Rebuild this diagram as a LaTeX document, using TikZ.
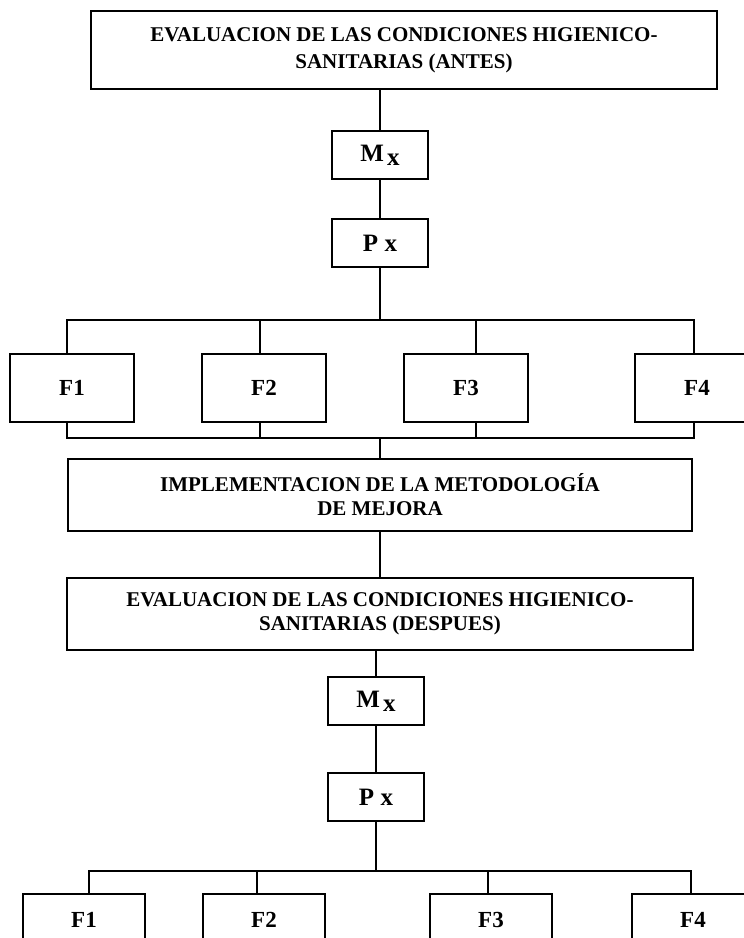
\documentclass[tikz,border=0pt]{standalone}
\usepackage{fontspec}
\setmainfont{Liberation Serif}
\begin{document}
\begin{tikzpicture}[x=1pt,y=-1pt,
  box/.style={draw=black, line width=2pt, inner sep=0pt, align=center, fill=white},
  bigbox/.style={box, font=\fontsize{21}{24}\selectfont\bfseries},
  varbox/.style={box, minimum width=96pt, minimum height=48pt, font=\fontsize{25}{28}\selectfont\bfseries},
  fbox/.style={box, minimum width=124pt, font=\fontsize{23}{26}\selectfont\bfseries},
  link/.style={draw=black, line width=2pt}
]
\useasboundingbox (0,0) rectangle (744,938);

% first evaluation
\node[bigbox, font=\fontsize{21}{27}\selectfont\bfseries, minimum width=626pt, minimum height=78pt] (ev1) at (404,50)
  {EVALUACION DE LAS CONDICIONES HIGIENICO-\\SANITARIAS (ANTES)};
\node[varbox] (mx1) at (380,155) {M\hspace{3pt}\raisebox{-4pt}{x}};
\node[varbox] (px1) at (380,243) {P x};

% factors, first round
\node[fbox, minimum height=68pt] (f1) at (72,388) {F1};
\node[fbox, minimum height=68pt] (f2) at (264,388) {F2};
\node[fbox, minimum height=68pt] (f3) at (466,388) {F3};
\node[fbox, minimum height=68pt] (f4) at (697,388) {F4};

% improvement methodology and second evaluation
\node[bigbox, minimum width=624pt, minimum height=72pt] (impl) at (380,495)
  {IMPLEMENTACION DE LA METODOLOGÍA\\DE MEJORA};
\node[bigbox, minimum width=626pt, minimum height=72pt] (ev2) at (380,614)
  {EVALUACION DE LAS CONDICIONES HIGIENICO-\\SANITARIAS (DESPUES)};
\node[varbox] (mx2) at (376,701) {M\hspace{3pt}\raisebox{-4pt}{x}};
\node[varbox] (px2) at (376,797) {P x};

% factors, second round
\node[fbox, minimum width=122pt, minimum height=52pt] (g1) at (84,920) {F1};
\node[fbox, minimum width=122pt, minimum height=52pt] (g2) at (264,920) {F2};
\node[fbox, minimum width=122pt, minimum height=52pt] (g3) at (491,920) {F3};
\node[fbox, minimum width=122pt, minimum height=52pt] (g4) at (693,920) {F4};

% bus points
\coordinate (ta) at (380,320);
\coordinate (t1) at (67,320);  \coordinate (t2) at (260,320);
\coordinate (t3) at (476,320); \coordinate (t4) at (694,320);
\coordinate (ba) at (380,438);
\coordinate (b1) at (67,438);  \coordinate (b2) at (260,438);
\coordinate (b3) at (476,438); \coordinate (b4) at (694,438);
\coordinate (ca) at (376,871);
\coordinate (c1) at (89,871);  \coordinate (c2) at (257,871);
\coordinate (c3) at (488,871); \coordinate (c4) at (691,871);

% connectors
\path[link] (mx1.north |- ev1.south) -- (mx1.north);
\path[link] (mx1.south) -- (px1.north);
\path[link] (px1.south) -- (ta);
\path[link, line cap=rect] (t1) -- (t4);
\path[link] (t1) -- (t1 |- f1.north);
\path[link] (t2) -- (t2 |- f2.north);
\path[link] (t3) -- (t3 |- f3.north);
\path[link] (t4) -- (t4 |- f4.north);
\path[link, line cap=rect] (b1) -- (b4);
\path[link] (b1 |- f1.south) -- (b1);
\path[link] (b2 |- f2.south) -- (b2);
\path[link] (b3 |- f3.south) -- (b3);
\path[link] (b4 |- f4.south) -- (b4);
\path[link] (ba) -- (ba |- impl.north);
\path[link] (impl.south) -- (impl.south |- ev2.north);
\path[link] (mx2.north |- ev2.south) -- (mx2.north);
\path[link] (mx2.south) -- (px2.north);
\path[link] (px2.south) -- (ca);
\path[link, line cap=rect] (c1) -- (c4);
\path[link] (c1) -- (c1 |- g1.north);
\path[link] (c2) -- (c2 |- g2.north);
\path[link] (c3) -- (c3 |- g3.north);
\path[link] (c4) -- (c4 |- g4.north);
\end{tikzpicture}
\end{document}
